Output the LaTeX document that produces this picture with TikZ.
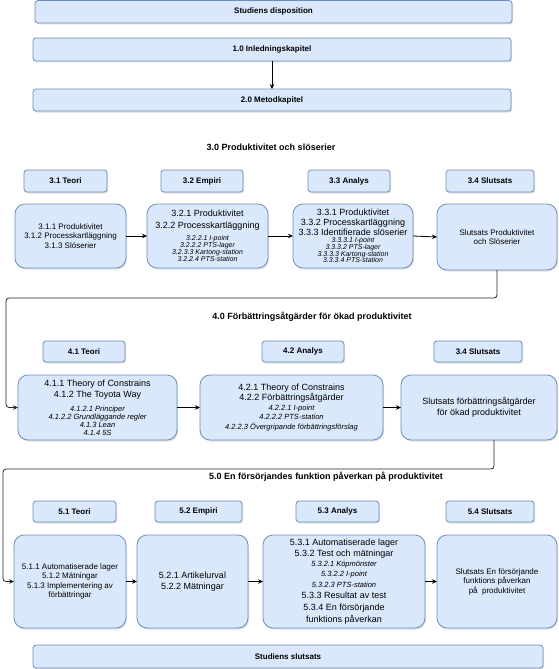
\documentclass[tikz,border=0pt]{standalone}
\usepackage{fontspec}
\setmainfont{Liberation Sans}
\usetikzlibrary{arrows.meta,shadows}
\definecolor{bfill}{HTML}{DAE8FC}
\definecolor{bline}{HTML}{6C8EBF}
\tikzset{
  base/.style={draw=bline, fill=bfill, line width=0.8pt, inner sep=0pt, outer sep=0pt, align=flush center,
    drop shadow={shadow xshift=1pt, shadow yshift=-1.5pt, opacity=0.25}},
  widebox/.style={base, rounded corners=3pt, font=\bfseries\fontsize{8}{9.5}\selectfont},
  headbox/.style={base, rounded corners=3pt, font=\bfseries\fontsize{8}{9.5}\selectfont},
  contentbox/.style={base, rounded corners=10pt},
  titletext/.style={font=\bfseries\fontsize{9}{11}\selectfont, inner sep=0pt},
  arr/.style={-{Stealth[length=5pt,width=4.5pt]}, line width=0.8pt, draw=black},
  conn/.style={arr, rounded corners=3pt, draw=black!85},
}
\newcommand{\mybox}[7]{\node[#6, minimum width={#4-#2}, minimum height={#5-#3}, text width={#4-#2-6}] (#1) at ({(#2+#4)/2},{(#3+#5)/2}) {#7};}
\begin{document}
\begin{tikzpicture}[x=1pt,y=-1pt]
\useasboundingbox (0,0) rectangle (558,669);
% top
\mybox{disp}{35}{0.5}{512}{23}{widebox}{Studiens disposition}
\mybox{intro}{33}{38}{511}{61}{widebox}{1.0 Inledningskapitel}
\mybox{metod}{33}{89}{511}{111}{widebox}{2.0 Metodkapitel}
\draw[arr] (intro.south) -- (metod.north);
% chapter 3
\node[titletext] (t3) at (271,147) {3.0 Produktivitet och slöserier};
\mybox{h31}{24}{170}{107}{192}{headbox}{3.1 Teori}
\mybox{h32}{161}{170}{243}{192}{headbox}{3.2 Empiri}
\mybox{h33}{308}{170}{390}{192}{headbox}{3.3 Analys}
\mybox{h34}{446}{170}{534}{192}{headbox}{3.4 Slutsats}
\mybox{c31}{15}{204}{126}{268}{contentbox}{{\fontsize{8}{9.5}\selectfont 3.1.1 Produktivitet\\3.1.2 Processkartläggning\\3.1.3 Slöserier\par}}
\mybox{c32}{147}{204}{268}{268}{contentbox}{{\fontsize{9}{11.5}\selectfont 3.2.1 Produktivitet\\3.2.2 Processkartläggning\par}\vspace{5pt}{\fontsize{7}{7}\selectfont\itshape 3.2.2.1 I-point\\3.2.2.2 PTS-lager\\3.2.3.3 Kartong-station\\3.2.2.4 PTS-station\par}}
\mybox{c33}{293}{204}{413}{268}{contentbox}{{\fontsize{9}{10}\selectfont 3.3.1 Produktivitet\\3.3.2 Processkartläggning\\3.3.3 Identifierade slöserier\par}{\fontsize{7}{6.8}\selectfont\itshape 3.3.3.1 I-point\\3.3.3.2 PTS-lager\\3.3.3.3 Kartong-station\\3.3.3.4 PTS-station\par}}
\mybox{c34}{437}{204}{557}{270}{contentbox}{{\fontsize{8}{9.5}\selectfont Slutsats Produktivitet\\och Slöserier\par}}
\draw[arr] (c31.east) -- (c32.west);
\draw[arr] (c32.east) -- (c33.west);
\draw[arr] (c33.east) -- (c34.west);
% chapter 4
\node[titletext] (t4) at (312,317) {4.0 Förbättringsåtgärder för ökad produktivitet};
\mybox{h41}{43}{341}{125}{362}{headbox}{4.1 Teori}
\mybox{h42}{262}{341}{344}{362}{headbox}{4.2 Analys}
\mybox{h44}{434}{341}{522}{362}{headbox}{3.4 Slutsats}
\mybox{c41}{18}{375}{177}{440}{contentbox}{{\fontsize{9}{11}\selectfont 4.1.1 Theory of Constrains\\4.1.2 The Toyota Way\par}\vspace{6pt}{\fontsize{7.5}{8}\selectfont\itshape 4.1.2.1 Principer\\4.1.2.2 Grundläggande regler\\4.1.3 Lean\\4.1.4 5S\par}}
\mybox{c42}{200}{375}{383}{440}{contentbox}{{\fontsize{9}{10.5}\selectfont 4.2.1 Theory of Constrains\\4.2.2 Förbättringsåtgärder\par}{\fontsize{7.5}{9.5}\selectfont\itshape 4.2.2.1 I-point\\4.2.2.2 PTS-station\\4.2.2.3 Övergripande förbättringsförslag\par}}
\mybox{c44}{401}{375}{557}{440}{contentbox}{{\fontsize{9}{10.5}\selectfont Slutsats förbättringsåtgärder\\för ökad produktivitet\par}}
\draw[arr] (c41.east) -- (c42.west);
\draw[arr] (c42.east) -- (c44.west);
\coordinate (k1) at (6,298);
\draw[conn] (c34.south) |- (k1) |- (c41.west);
\coordinate (k2) at (494,469);
\coordinate (k3) at (3,469);
% chapter 5
\node[titletext] (t5) at (326,477) {5.0 En försörjandes funktion påverkan på produktivitet};
\mybox{h51}{33}{501}{116}{522}{headbox}{5.1 Teori}
\mybox{h52}{155}{501}{242}{522}{headbox}{5.2 Empiri}
\mybox{h53}{296}{501}{379}{522}{headbox}{5.3 Analys}
\mybox{h54}{446}{501}{534}{522}{headbox}{5.4 Slutsats}
\mybox{c51}{14}{535}{126}{628}{contentbox}{{\fontsize{8}{9.3}\selectfont 5.1.1 Automatiserade lager\\5.1.2 Mätningar\\5.1.3 Implementering av\\förbättringar\par}}
\mybox{c52}{137}{535}{248}{628}{contentbox}{{\fontsize{9}{10.5}\selectfont 5.2.1 Artikelurval\\5.2.2 Mätningar\par}}
\mybox{c53}{263}{535}{425}{628}{contentbox}{{\fontsize{9}{11}\selectfont 5.3.1 Automatiserade lager\\5.3.2 Test och mätningar\par}{\fontsize{7.5}{10.3}\selectfont\itshape 5.3.2.1 Köpmönster\\5.3.2.2 I-point\\5.3.2.3 PTS-station\par}{\fontsize{9}{11.8}\selectfont 5.3.3 Resultat av test\\5.3.4 En försörjande\\funktions påverkan\par}}
\mybox{c54}{437}{535}{557}{628}{contentbox}{{\fontsize{8}{9.5}\selectfont Slutsats En försörjande\\funktions påverkan\\på\ \ produktivitet\par}}
\draw[arr] (c51.east) -- (c52.west);
\draw[arr] (c52.east) -- (c53.west);
\draw[arr] (c53.east) -- (c54.west);
\draw[conn] (k2 |- c44.south) -- (k2) -- (k3) |- (c51.west);
\mybox{slut}{33}{645}{543}{668}{widebox}{Studiens slutsats}
\end{tikzpicture}
\end{document}
